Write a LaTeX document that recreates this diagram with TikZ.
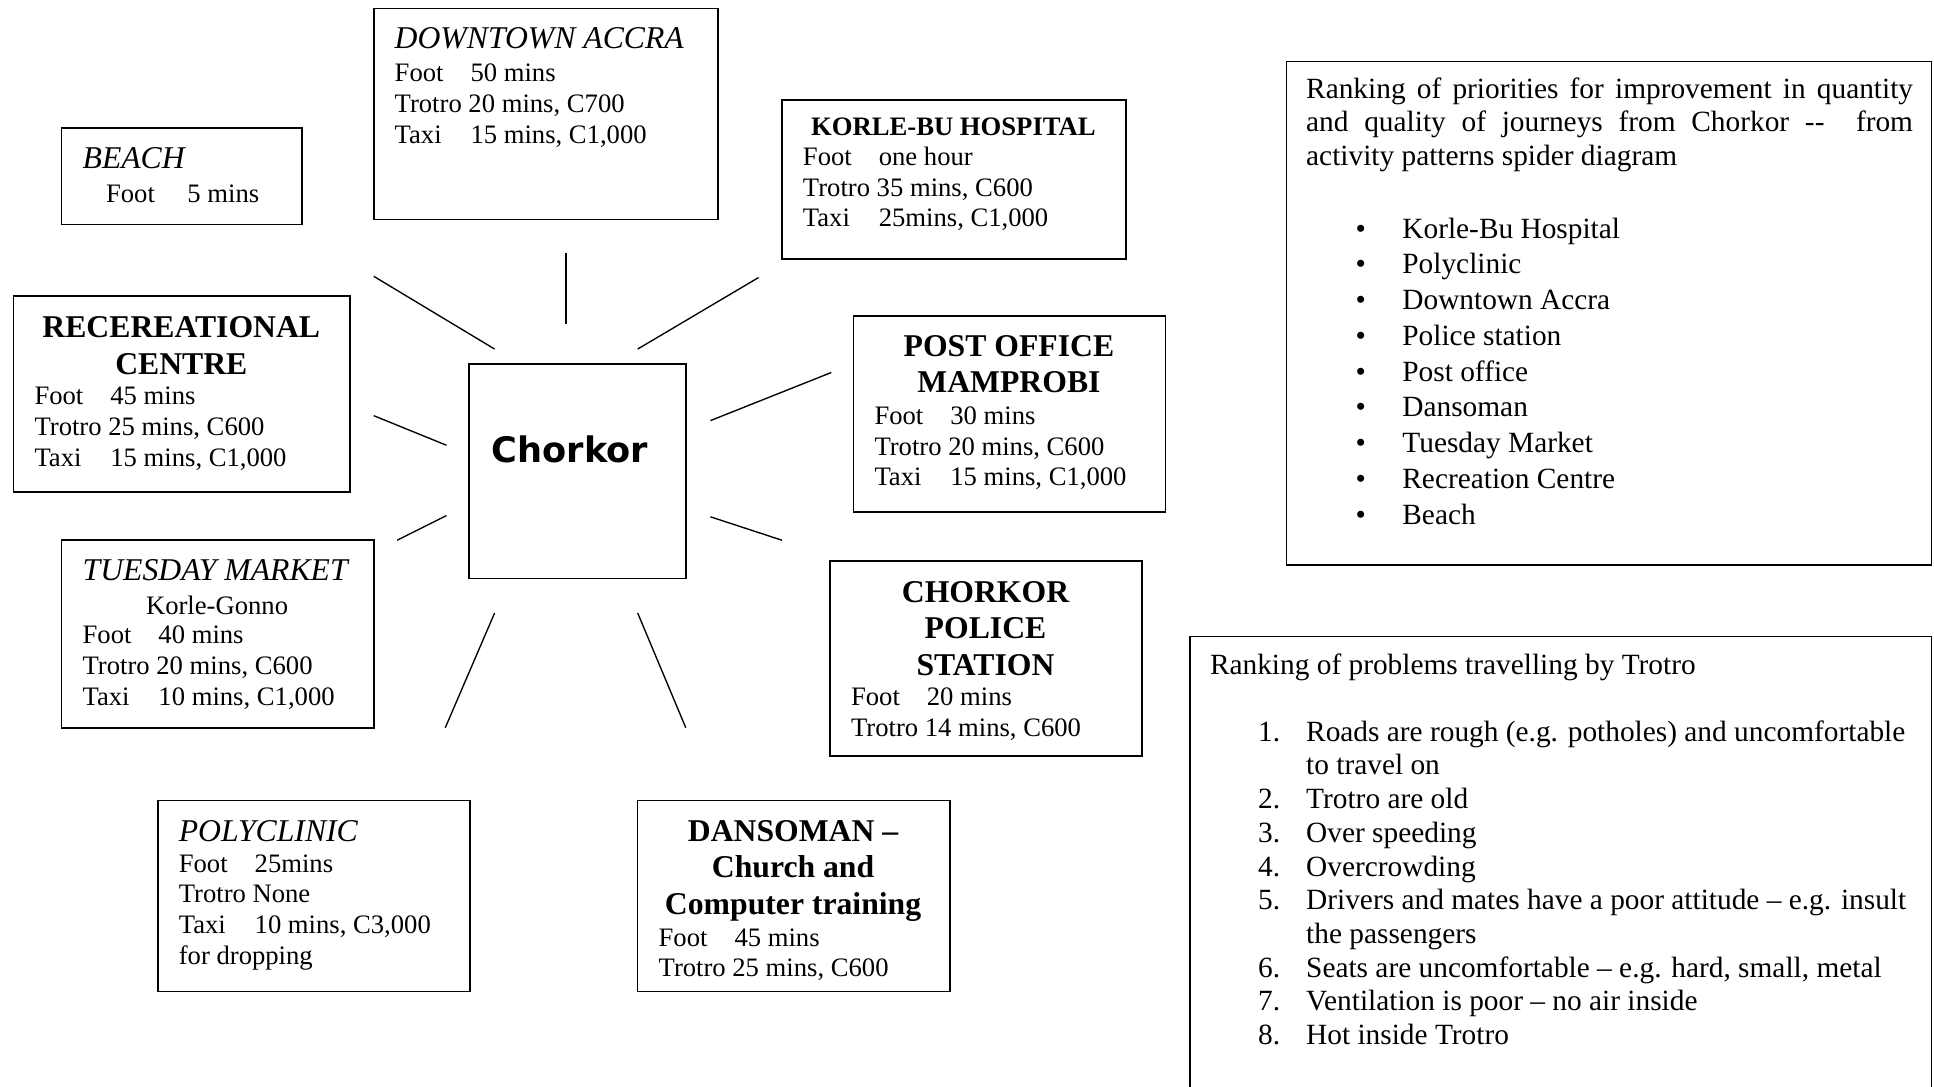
\documentclass[tikz,border=0pt]{standalone}
\usepackage{fontspec}
\setmainfont{Liberation Serif}
\newfontfamily\comicfont{DejaVu Sans}
% type sizes
\newcommand\bodyf{\fontsize{21.6}{25}\selectfont}
\newcommand\headf{\fontsize{25.7}{29.6}\selectfont}
\newcommand\sidef{\fontsize{23.8}{27}\selectfont}
\newcommand\listf{\fontsize{23.8}{29}\selectfont}
\newcommand\numf{\fontsize{23.8}{27.3}\selectfont}
% tab after the mode of travel
\newcommand\tb[1]{\makebox[61.5pt][l]{#1}}
\begin{document}
\begin{tikzpicture}[x=1pt,y=-1pt,
  box/.style={draw, line width=1.3pt, rectangle, inner sep=0pt, outer sep=0pt, anchor=north west},
  spoke/.style={line width=1.1pt},
  txt/.style={inner sep=0pt, outer sep=0pt, align=left, anchor=north west, font=\bodyf},
  lone/.style={inner sep=0pt, outer sep=0pt, anchor=base west, font=\bodyf},
  ititle/.style={inner sep=0pt, outer sep=0pt, anchor=base west, font=\headf\itshape},
  btitle/.style={inner sep=0pt, outer sep=0pt, align=center, anchor=north, font=\headf\bfseries},
]
\useasboundingbox (0,0) rectangle (1568,881);
\fill[white] (0,0) rectangle (1568,881);
\clip (0,0) rectangle (1568,881);

% ---- centre ----
\node[box, minimum width=176pt, minimum height=174pt] (chorkor) at (380,295) {};
\node[inner sep=0pt, anchor=base, font=\comicfont\bfseries\fontsize{28.5}{32}\selectfont] (chorkorlabel) at (462,375) {Chorkor};

% ---- beach ----
\node[box, minimum width=195pt, minimum height=78pt] (beach) at (50,104) {};
\node[ititle] (beachT) at (67,137) {BEACH};
\node[lone] (beachB) at (86,164) {\makebox[66pt][l]{Foot}5 mins};

% ---- downtown accra ----
\node[box, minimum width=279pt, minimum height=171pt] (downtown) at (303,7) {};
\node[ititle] (downtownT) at (320,39) {DOWNTOWN ACCRA};
\node[txt] (downtownB) at (320,48.5) {\strut\tb{Foot}50 mins\\Trotro 20 mins, C700\\\tb{Taxi}15 mins, C1,000};

% ---- korle-bu hospital ----
\node[box, minimum width=279pt, minimum height=129pt] (korlebu) at (634,81) {};
\node[inner sep=0pt, anchor=base, font=\bodyf\bfseries] (korlebuT) at (773,110) {KORLE-BU HOSPITAL};
\node[txt] (korlebuB) at (651,116.5) {\strut\tb{Foot}one hour\\Trotro 35 mins, C600\\\tb{Taxi}25mins, C1,000};

% ---- recreational centre ----
\node[box, minimum width=273pt, minimum height=159pt] (recreation) at (11,240) {};
\node[btitle] (recreationT) at (147,253.3) {\strut RECEREATIONAL\\CENTRE};
\node[txt] (recreationB) at (28,310.5) {\strut\tb{Foot}45 mins\\Trotro 25 mins, C600\\\tb{Taxi}15 mins, C1,000};

% ---- post office ----
\node[box, minimum width=253pt, minimum height=159pt] (post) at (692,256) {};
\node[btitle] (postT) at (818,268.3) {\strut POST OFFICE\\MAMPROBI};
\node[txt] (postB) at (709,326.5) {\strut\tb{Foot}30 mins\\Trotro 20 mins, C600\\\tb{Taxi}15 mins, C1,000};

% ---- tuesday market ----
\node[box, minimum width=253pt, minimum height=152pt] (market) at (50,438) {};
\node[ititle] (marketT) at (67,471) {TUESDAY MARKET};
\node[inner sep=0pt, anchor=base, font=\bodyf] (marketS) at (176,498) {Korle-Gonno};
\node[txt] (marketB) at (67,504.5) {\strut\tb{Foot}40 mins\\Trotro 20 mins, C600\\\tb{Taxi}10 mins, C1,000};

% ---- police station ----
\node[box, minimum width=253pt, minimum height=158pt] (police) at (673,455) {};
\node[btitle] (policeT) at (799,467.5) {\strut CHORKOR\\POLICE\\STATION};
\node[txt] (policeB) at (690,554.5) {\strut\tb{Foot}20 mins\\Trotro 14 mins, C600};

% ---- polyclinic ----
\node[box, minimum width=253pt, minimum height=155pt] (poly) at (128,649) {};
\node[ititle] (polyT) at (145,682) {POLYCLINIC};
\node[txt] (polyB) at (145,689.5) {\strut\tb{Foot}25mins\\Trotro None\\\tb{Taxi}10 mins, C3,000\\for dropping};

% ---- dansoman ----
\node[box, minimum width=253pt, minimum height=155pt] (dansoman) at (517,649) {};
\node[btitle] (dansomanT) at (643,661.5) {\strut DANSOMAN \textendash\\Church and\\Computer training};
\node[txt] (dansomanB) at (534,749.5) {\strut\tb{Foot}45 mins\\Trotro 25 mins, C600};

% ---- spokes round the centre ----
\coordinate (s1a) at (303,224); \coordinate (s1b) at (401,283);
\coordinate (s2a) at (459,205); \coordinate (s2b) at (459,263);
\coordinate (s3a) at (615,225); \coordinate (s3b) at (517,283);
\coordinate (s4a) at (303,337); \coordinate (s4b) at (362,361);
\coordinate (s5a) at (674,302); \coordinate (s5b) at (576,341);
\coordinate (s6a) at (322,438); \coordinate (s6b) at (362,418);
\coordinate (s7a) at (576,419); \coordinate (s7b) at (634,438);
\coordinate (s8a) at (401,497); \coordinate (s8b) at (361,590);
\coordinate (s9a) at (517,497); \coordinate (s9b) at (556,590);
\foreach \i in {1,...,9} \draw[spoke] (s\i a) -- (s\i b);

% ---- priorities panel ----
\node[box, minimum width=523pt, minimum height=408pt] (priorities) at (1043,50) {};
\node[txt, font=\sidef] (prioritiesP) at (1059,61.1) {\strut\makebox[492pt][s]{Ranking of priorities for improvement in quantity}\\
  \makebox[492pt][s]{and quality of journeys from Chorkor -{}-\ \ from}\\
  activity patterns spider diagram};
\node[txt, font=\listf] (prioritiesL) at (1099,172.7) {\strut\makebox[38pt][l]{\textbullet}Korle-Bu Hospital\\
  \makebox[38pt][l]{\textbullet}Polyclinic\\
  \makebox[38pt][l]{\textbullet}Downtown Accra\\
  \makebox[38pt][l]{\textbullet}Police station\\
  \makebox[38pt][l]{\textbullet}Post office\\
  \makebox[38pt][l]{\textbullet}Dansoman\\
  \makebox[38pt][l]{\textbullet}Tuesday Market\\
  \makebox[38pt][l]{\textbullet}Recreation Centre\\
  \makebox[38pt][l]{\textbullet}Beach};

% ---- trotro problems panel (runs past the lower edge) ----
\coordinate (pbl) at (965,895);
\coordinate (pbr) at (1566,895);
\node[inner sep=0pt, outer sep=0pt, minimum width=601pt, minimum height=1pt, anchor=north west] (problems) at (965,516) {};
\draw[line width=1.3pt] (pbl) -- (problems.north west) -- (problems.north east) -- (pbr);
\node[lone, font=\sidef] (problemsT) at (981,547) {Ranking of problems travelling by Trotro};
\node[txt, font=\numf] (problemsL) at (1020,581.9) {\strut\makebox[39pt][l]{1.}Roads are rough (e.g. potholes) and uncomfortable\\
  \hspace*{39pt}to travel on\\
  \makebox[39pt][l]{2.}Trotro are old\\
  \makebox[39pt][l]{3.}Over speeding\\
  \makebox[39pt][l]{4.}Overcrowding\\
  \makebox[39pt][l]{5.}Drivers and mates have a poor attitude \textendash\ e.g. insult\\
  \hspace*{39pt}the passengers\\
  \makebox[39pt][l]{6.}Seats are uncomfortable \textendash\ e.g. hard, small, metal\\
  \makebox[39pt][l]{7.}Ventilation is poor \textendash\ no air inside\\
  \makebox[39pt][l]{8.}Hot inside Trotro};
\end{tikzpicture}
\end{document}
